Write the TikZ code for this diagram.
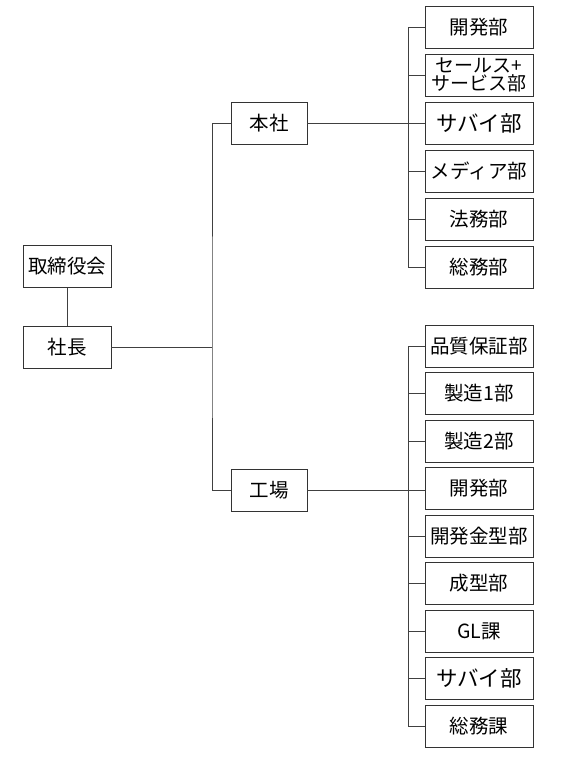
\documentclass[tikz,border=0pt]{standalone}
\usepackage{fontspec}
\setmainfont{Noto Sans CJK JP}
\usetikzlibrary{positioning}

\begin{document}
\begin{tikzpicture}[x=1pt, y=-1pt,
    box/.style={draw=black!80, line width=0.8pt, minimum height=42pt, inner sep=0pt,
                font=\fontsize{19.5}{20}\selectfont},
    dept/.style={box, minimum width=108pt},
    big/.style={font=\fontsize{21.5}{22}\selectfont},
    line/.style={draw=black!75, line width=0.8pt}]
    \useasboundingbox (0,0) rectangle (568,764);

    \node [box, minimum width=88pt] (bod) at (67,266.5) {取締役会};
    \node [box, minimum width=88pt] (pres) at (67,347) {社長};
    \node [box, minimum width=76pt] (hq) at (269,123) {本社};
    \node [box, minimum width=76pt] (fac) at (269,490) {工場};

    % head office
    \node [dept] (h1) at (479,27) {開発部};
    \node [dept, below=5.2pt of h1, align=center, font=\fontsize{19}{15.5}\selectfont] (h2) {セールス+\\サービス部};
    \node [dept, big, below=5.2pt of h2] (h3) {サバイ部};
    \node [dept, below=5.2pt of h3] (h4) {メディア部};
    \node [dept, below=5.2pt of h4] (h5) {法務部};
    \node [dept, below=5.2pt of h5] (h6) {総務部};

    % factory
    \node [dept] (f1) at (479,346) {品質保証部};
    \node [dept, below=4.7pt of f1] (f2) {製造1部};
    \node [dept, below=4.7pt of f2] (f3) {製造2部};
    \node [dept, below=4.7pt of f3] (f4) {開発部};
    \node [dept, below=4.7pt of f4] (f5) {開発金型部};
    \node [dept, below=4.7pt of f5] (f6) {成型部};
    \node [dept, below=4.7pt of f6] (f7) {GL課};
    \node [dept, big, below=4.7pt of f7] (f8) {サバイ部};
    \node [dept, below=4.7pt of f8] (f9) {総務課};

    \coordinate (trunk) at (212,347);

    \draw [line] (bod) -- (pres);
    \draw [line] (pres) -- (trunk);
    \draw [line] (hq.west) -| (trunk) |- (fac.west);

    \draw [line] (hq.east) -- (hq.east -| h3.west);
    \draw [line] (h1.west) -- ++(-16,0) |- (h6.west);
    \foreach \n in {h2,h4,h5}
        \draw [line] (\n.west) -- ++(-16,0);

    \draw [line] (fac.east) -- (fac.east -| f4.west);
    \draw [line] (f1.west) -- ++(-16,0) |- (f9.west);
    \foreach \n in {f2,f3,f5,f6,f7,f8}
        \draw [line] (\n.west) -- ++(-16,0);
\end{tikzpicture}
\end{document}
